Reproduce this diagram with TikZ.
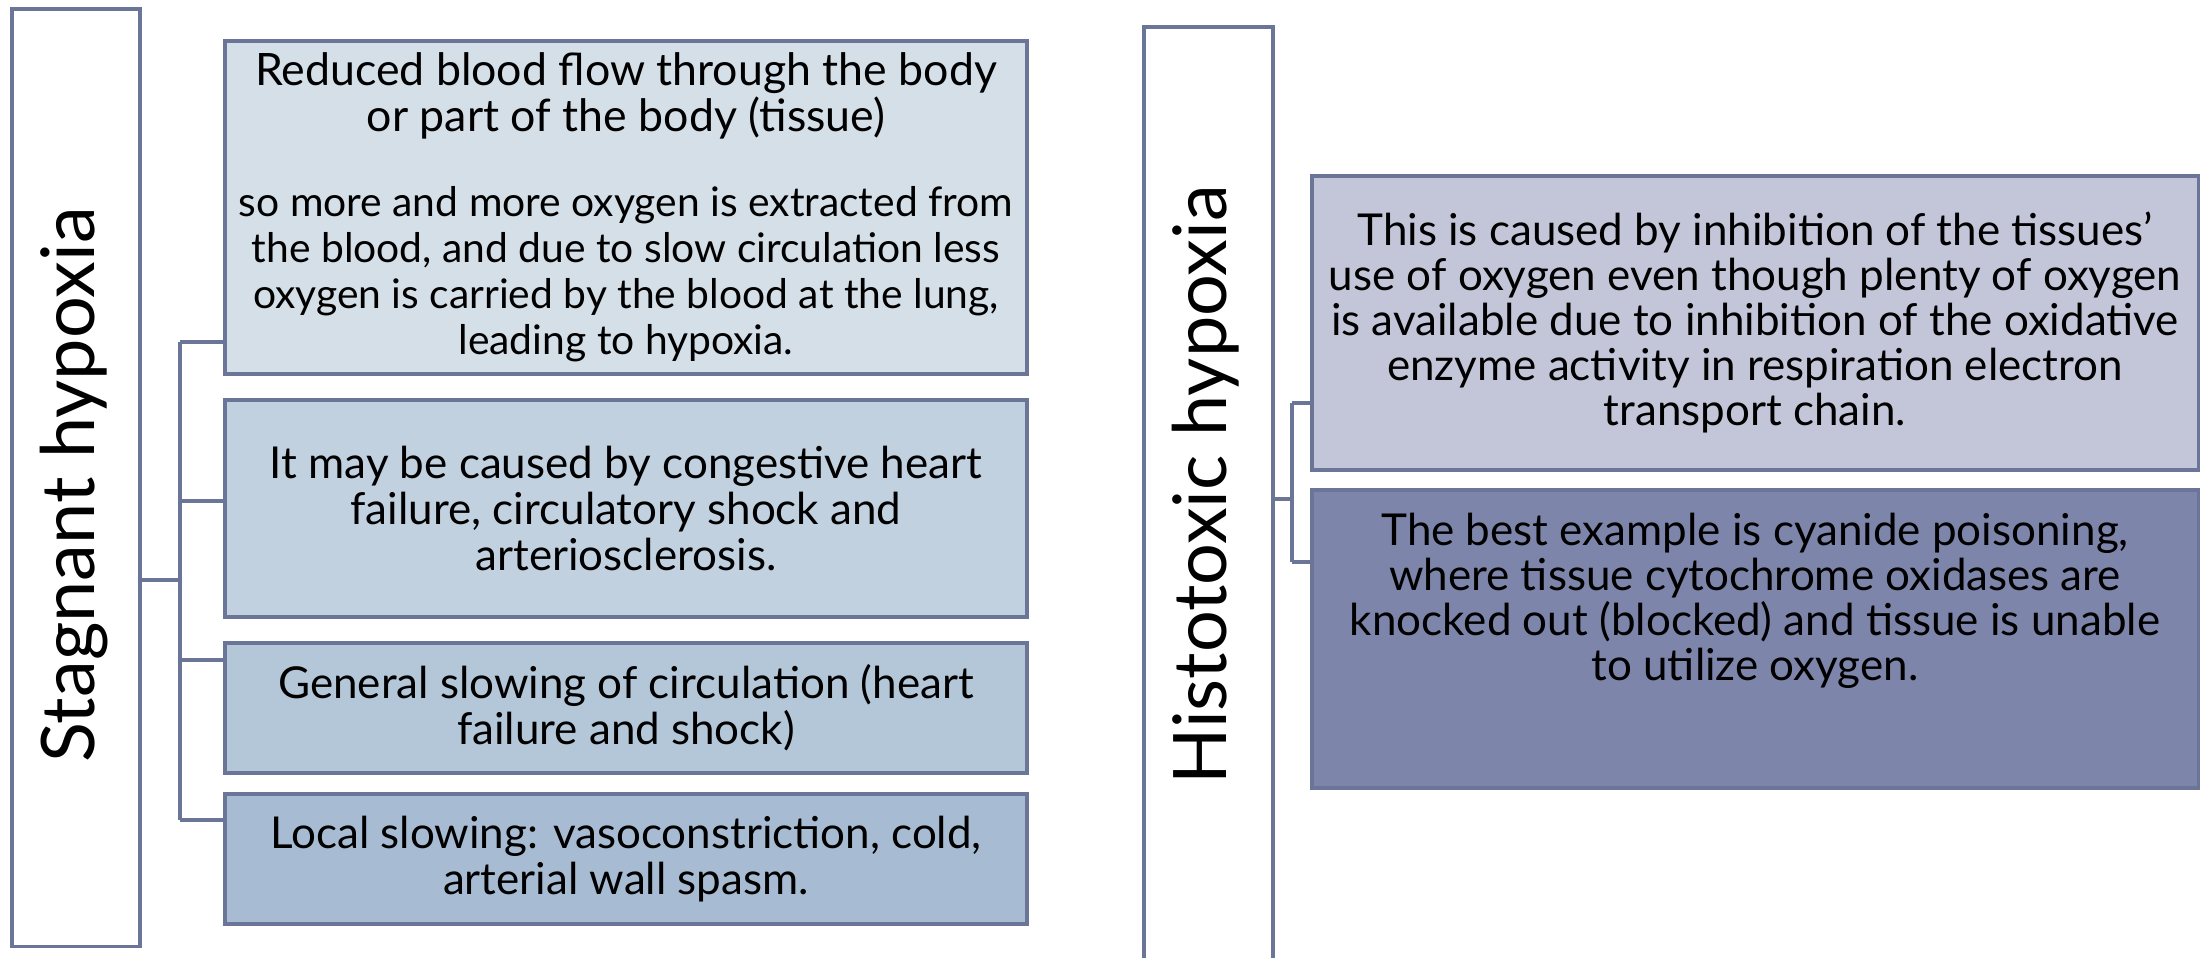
\documentclass[tikz,border=0pt]{standalone}
\usepackage{fontspec}
\setmainfont{Lato}
\usetikzlibrary{positioning}
\definecolor{edgecol}{HTML}{6B7598}
\definecolor{stagA}{HTML}{D5DFE8}
\definecolor{stagB}{HTML}{C1D1E0}
\definecolor{stagC}{HTML}{B4C7D8}
\definecolor{stagD}{HTML}{A7BCD2}
\definecolor{histA}{HTML}{C3C6D8}
\definecolor{histB}{HTML}{7D85AA}
\newcommand\leadfont{\fontsize{12.7}{14.2}\selectfont}
\newcommand\restfont{\fontsize{11.6}{13.3}\selectfont}

\begin{document}
\begin{tikzpicture}[x=0.01cm, y=-0.01cm,
  titlebox/.style={draw=edgecol, line width=1pt, fill=white, anchor=north west, inner sep=0pt},
  titletext/.style={rotate=90, font=\fontsize{21}{25}\selectfont},
  box/.style={draw=edgecol, line width=1pt, anchor=north west, inner sep=0pt, align=center,
    font=\fontsize{12.5}{13.1}\selectfont},
  link/.style={edgecol, line width=1pt}]

\useasboundingbox (0,0) rectangle (2203,957);

% --- Left panel: Stagnant hypoxia ---
\node[titlebox, minimum width=1.28cm, minimum height=9.37cm] (stag) at (10,7) {};
\node[titletext] (stagtxt) at (74,485) {Stagnant hypoxia};

% Boxes
\node[box, fill=stagA, minimum width=8.02cm, minimum height=3.33cm] (l1) at (223,39)
  {\leadfont Reduced blood flow through the body\\
   \leadfont or part of the body (tissue)\\[11pt]
   \restfont so more and more oxygen is extracted from\\
   \restfont the blood, and due to slow circulation less\\
   \restfont oxygen is carried by the blood at the lung,\\
   \restfont leading to hypoxia.};
\node[box, fill=stagB, minimum width=8.02cm, minimum height=2.17cm] (l2) at (223,398)
  {It may be caused by congestive heart\\ failure, circulatory shock and\\ arteriosclerosis.};
\node[box, fill=stagC, minimum width=8.02cm, minimum height=1.30cm] (l3) at (223,641)
  {General slowing of circulation (heart\\ failure and shock)};
\node[box, fill=stagD, minimum width=8.02cm, minimum height=1.30cm] (l4) at (223,792)
  {Local slowing: vasoconstriction, cold,\\ arterial wall spasm.};

% Connectors
\coordinate (sj) at (180,580);
\coordinate (s1) at (180,342);
\coordinate (s2) at (180,501);
\coordinate (s3) at (180,660);
\coordinate (s4) at (180,820);
\draw[link] (stag.east |- sj) -- (sj);
\draw[link] (s1) -- (s4);
\draw[link] (s1) -- (s1 -| l1.west);
\draw[link] (s2) -- (s2 -| l2.west);
\draw[link] (s3) -- (s3 -| l3.west);
\draw[link] (s4) -- (s4 -| l4.west);

% --- Right panel: Histotoxic hypoxia ---
\node[titlebox, minimum width=1.29cm, minimum height=9.60cm] (histo) at (1142,25) {};
\node[titletext] (histotxt) at (1206,485) {Histotoxic hypoxia};

% Boxes
\node[box, fill=histA, minimum width=8.86cm, minimum height=2.94cm,
  font=\fontsize{12.5}{12.8}\selectfont] (r1) at (1310,174)
  {This is caused by inhibition of the tissues’\\
   use of oxygen even though plenty of oxygen\\
   is available due to inhibition of the oxidative\\
   enzyme activity in respiration electron\\
   transport chain.};
\node[box, fill=histB, minimum width=8.86cm, minimum height=2.98cm, text depth=24pt,
  font=\fontsize{12.5}{12.8}\selectfont] (r2) at (1310,488)
  {The best example is cyanide poisoning,\\
   where tissue cytochrome oxidases are\\
   knocked out (blocked) and tissue is unable\\
   to utilize oxygen.};

% Connectors
\coordinate (hj) at (1292,499);
\coordinate (h1) at (1292,403);
\coordinate (h2) at (1292,562);
\draw[link] (histo.east |- hj) -- (hj);
\draw[link] (h1) -- (h2);
\draw[link] (h1) -- (h1 -| r1.west);
\draw[link] (h2) -- (h2 -| r2.west);

\end{tikzpicture}
\end{document}
